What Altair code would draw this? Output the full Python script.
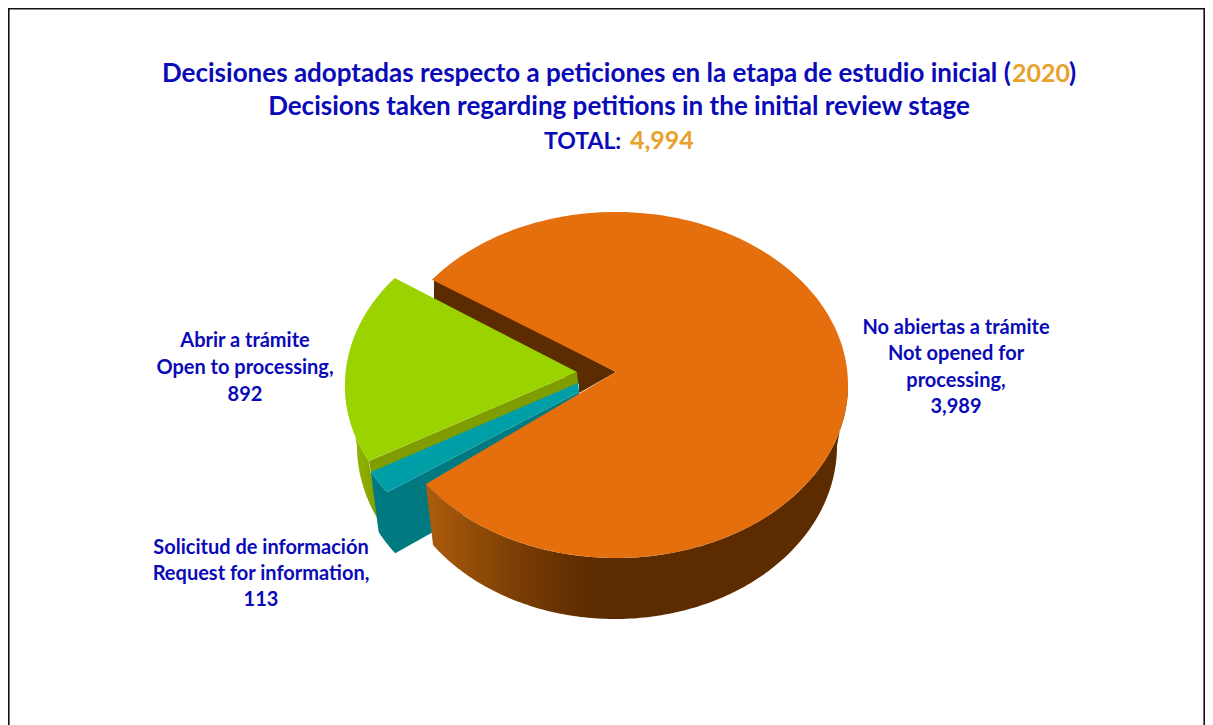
import math
import altair as alt
import pandas as pd

categories = ["No abiertas a trámite", "Abrir a trámite", "Solicitud de información"]
values = [3989, 892, 113]
total = 4994

W, H = 1197, 717
FONT = "Lato"
BLUE = "#0A0AB8"
GOLD = "#E8A22C"
START = 217.5

sweep = [v / sum(values) * 360 for v in values]
o0, o1 = START, START + sweep[0]
g1 = START + 0.7
g0 = g1 - sweep[1]
t1 = g0
t0 = t1 - sweep[2]

RX, RY = 232, 173
BRX, BRY = 222, 173
BCY = 446


def arc(cx, cy, rx, ry, a, b, n=160):
    return [(cx + rx * math.cos(math.radians(a + (b - a) * i / n)),
             cy + ry * math.sin(math.radians(a + (b - a) * i / n))) for i in range(n + 1)]


x_scale = alt.Scale(domain=[8, 8 + W], zero=False, nice=False)
y_scale = alt.Scale(domain=[8 + H, 8], zero=False, nice=False)


def poly(points, fill):
    df = pd.DataFrame([{"x": p[0], "y": p[1], "i": i} for i, p in enumerate(points)])
    return alt.Chart(df).mark_line(interpolate="linear-closed", fill=fill, strokeWidth=0).encode(
        x=alt.X("x:Q", scale=x_scale, axis=None),
        y=alt.Y("y:Q", scale=y_scale, axis=None),
        order="i:Q",
    )


def grad(stops):
    return alt.Gradient(gradient="linear", x1=0, x2=1, y1=0, y2=0,
                        stops=[alt.GradientStop(offset=o, color=c) for o, c in stops])


def text(s, x, y, size, color=BLUE, align="center"):
    return alt.Chart(alt.Data(values=[{"a": 1}])).mark_text(
        font=FONT, fontWeight="bold", fontSize=size, color=color, align=align, baseline="alphabetic"
    ).encode(x=alt.value(x - 8), y=alt.value(y - 8), text=alt.value(s))


def frame(x, x2, y, y2):
    return alt.Chart(alt.Data(values=[{"a": 1}])).mark_rule(color="#111111", strokeWidth=1.6).encode(
        x=alt.value(x), x2=alt.value(x2), y=alt.value(y), y2=alt.value(y2))


layers = [
    frame(0.8, 0.8, 0, H), frame(W - 0.8, W - 0.8, 0, H), frame(0, W, 0.8, 0.8),
    # inner wall of the big slice
    poly([(434, 278), (434, 304), (579, 384), (579, 393), (616, 372)], "#5C2C00"),
    # green outer wall
    poly(arc(577, 385, RX, RY, g0, 182) + arc(579, BCY, BRX, BRY, 180, g0), grad([(0, "#9ABF00"), (1, "#7F9C00")])),
    # teal walls, one outline so that no seam shows
    poly(arc(579, 395, RX, RY, t1, t0, 20) + [(579, 392), (579, 450)] + arc(587, 456, RX, RY, t0, t1, 20), "#007A80"),
    # teal top
    poly([(578, 380), (579, 392)] + arc(579, 395, RX, RY, t0, t1, 20) + [(372, 468)], "#009FA8"),
    # green cut face and top
    poly([(369, 461), (577, 372), (578, 383), (371, 472)], "#7F9C00"),
    poly([(577, 372)] + arc(577, 385, RX, RY, g0, g1), "#9BD300"),
    # orange wall and top
    poly(arc(616, 385, RX, RY, 0, o1 - 360) + arc(615, BCY, BRX, BRY, o1 - 360, 0),
         grad([(0, "#AE5C0C"), (0.2, "#7E4004"), (0.38, "#5C2C00"), (1, "#5C2C00")])),
    poly([(616, 372)] + arc(616, 385, RX, RY, o0, o1, 300), "#E56E0D"),
    # title
    text("Decisiones adoptadas  respecto a peticiones en la etapa de estudio inicial (", 162, 82, 26, align="left"),
    text("2020", 1012, 82, 25, GOLD, "left"),
    text(")", 1069, 82, 26, align="left"),
    text("Decisions taken regarding petitions in the initial review stage", 619, 115, 26),
    text("TOTAL:", 544, 149, 23, align="left"),
    text(f"{total:,}", 630, 149, 25, GOLD, "left"),
    # labels
    text(categories[1], 245, 347, 20),
    text("Open to processing,", 245, 374, 20),
    text(f"{values[1]:,}", 245, 401, 20),
    text(categories[0], 956, 334, 20),
    text("Not opened for", 956, 360, 20),
    text("processing,", 956, 387, 20),
    text(f"{values[0]:,}", 956, 413, 20),
    text(categories[2], 261, 554, 20),
    text("Request for information,", 261, 580, 20),
    text(f"{values[2]:,}", 261, 606, 20),
]

chart = alt.layer(*layers).properties(
    width=W, height=H, padding=0, autosize=alt.AutoSizeParams(type="none"),
    background="white",
).configure_view(stroke=None)

chart.save("out.html", embed_options={"renderer": "svg", "actions": False})
